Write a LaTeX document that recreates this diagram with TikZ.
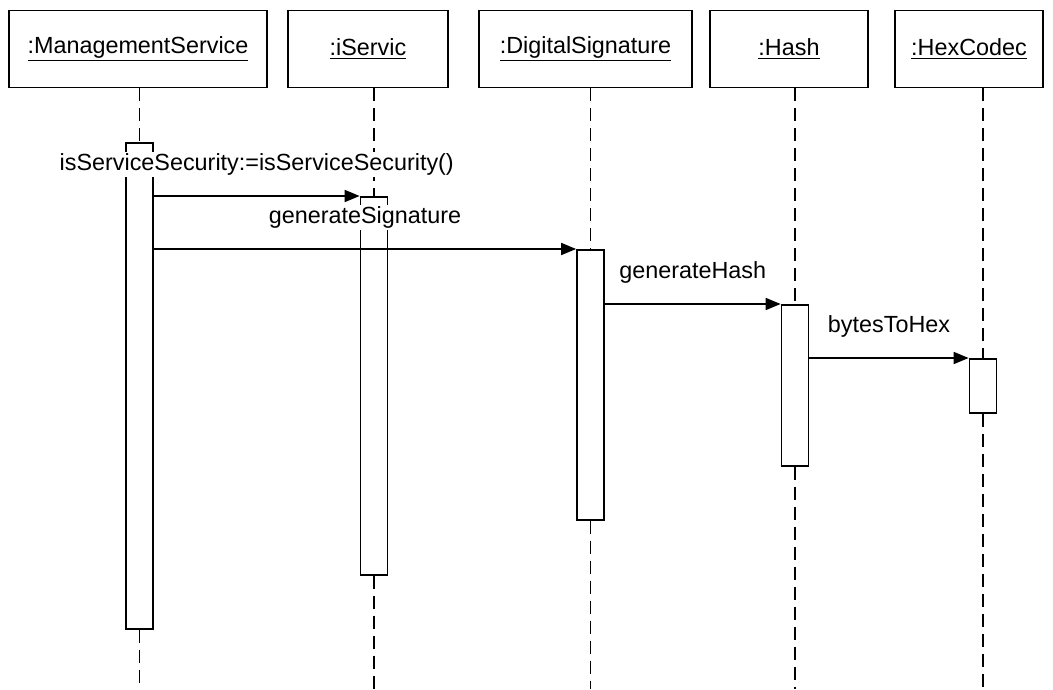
\documentclass[tikz,border=0pt]{standalone}
\usepackage{fontspec}
\setmainfont{Liberation Sans}
\usetikzlibrary{arrows.meta,positioning}

\begin{document}
\begin{tikzpicture}[x=0.02cm, y=-0.02cm, line width=1pt,
  head/.style={draw, minimum height=1.54cm, inner sep=0pt, font=\fontsize{13.3}{16}\selectfont},
  bar/.style={draw, fill=white, minimum width=0.54cm, inner sep=0pt, anchor=north},
  lifeline/.style={dash pattern=on 0.26cm off 0.14cm},
  msg/.style={-{Triangle[length=0.3cm, width=0.24cm]}},
  msglabel/.style={above=0.36cm, fill=white, inner sep=1pt, font=\fontsize{13.3}{16}\selectfont}]
\useasboundingbox (0,0) rectangle (1053,689);
\coordinate (bottom) at (0,689);
\node[head, minimum width=5.16cm] (ms) at (138,49) {\underline{:ManagementService}};
\node[head, minimum width=3.2cm] (isv) at (368,49) {\underline{:iServic}};
\node[head, minimum width=4.26cm] (ds) at (585.5,49) {\underline{:DigitalSignature}};
\node[head, minimum width=3.16cm] (hash) at (789,49) {\underline{:Hash}};
\node[head, minimum width=2.96cm] (hex) at (969,49) {\underline{:HexCodec}};
\node[bar, minimum height=9.72cm] (ms_bar) at (139.5,142) {};
\node[bar, minimum height=7.56cm] (isv_bar) at (374,196) {};
\node[bar, minimum height=5.4cm] (ds_bar) at (590.5,249) {};
\node[bar, minimum height=3.22cm] (hash_bar) at (795,304) {};
\node[bar, minimum height=1.08cm] (hex_bar) at (983,358) {};
\foreach \h in {ms,isv,ds,hash,hex}
  \draw[lifeline] (\h.south -| \h_bar.north) -- (\h_bar.north) (\h_bar.south) -- (\h_bar.south |- bottom);
\draw[msg] (ms_bar.north east |- isv_bar.north) -- node[msglabel] {isServiceSecurity:=isServiceSecurity()} (isv_bar.north west);
\draw[msg] (ms_bar.east |- ds_bar.north) -- node[msglabel] {generateSignature} (ds_bar.north west);
\draw[msg] (ds_bar.east |- hash_bar.north) -- node[msglabel] {generateHash} (hash_bar.north west);
\draw[msg] (hash_bar.east |- hex_bar.north) -- node[msglabel] {bytesToHex} (hex_bar.north west);
\end{tikzpicture}
\end{document}
